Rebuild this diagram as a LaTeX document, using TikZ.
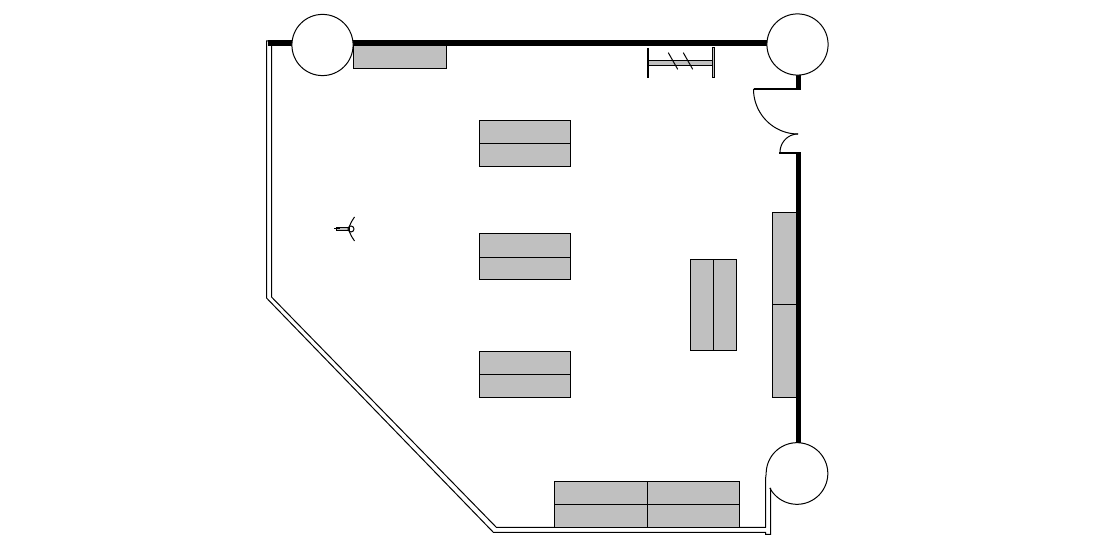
\documentclass[tikz,border=0pt]{standalone}
\definecolor{shelf}{HTML}{C0C0C0}
\tikzset{
  thin line/.style={draw=black,line width=.75pt},
  wall/.style={draw=black,line width=4pt,line cap=butt},
  leaf/.style={draw=black,line width=1.6pt,line join=miter},
  unit/.style={fill=shelf,draw=black,line width=.75pt},
  pillar/.style={draw=black,line width=.75pt,fill=white}
}
\begin{document}
\begin{tikzpicture}[x=.75pt,y=-.75pt]
\useasboundingbox (0,0) rectangle (1096,548);
% glass wall
\draw[thin line,line join=miter] (268,41) -- (266.5,41) -- (266.5,298) -- (493.5,532.5) -- (765.5,532.5) -- (765.5,534.5) -- (770.5,534.5) -- (770.5,488);
\draw[thin line,line join=round] (271.5,45) -- (271.5,297) -- (496.5,527.5) -- (765.5,527.5) -- (765.5,479) -- (766.2,473.5);
% solid walls
\draw[wall] (268,43) -- (292,43);
\draw[wall] (353,43) -- (767,43);
\draw[wall] (798.5,75) -- (798.5,89);
\draw[wall] (798.5,153) -- (798.5,443);
% pillars
\draw[pillar] (322.5,45) circle[radius=30.6];
\draw[pillar] (797.5,44.5) circle[radius=30.6];
\draw[thin line,domain=208:540,samples=120,smooth] plot ({797+30.8*cos(\x)},{473.5-30.8*sin(\x)});
% door
\draw[leaf] (753.5,89) -- (801,89);
\draw[leaf] (779,153) -- (801,153);
\draw[thin line,domain=180:270,samples=40,smooth] plot ({798+44.5*cos(\x)},{89-45*sin(\x)});
\draw[thin line,domain=90:180,samples=30,smooth] plot ({798+18*cos(\x)},{152.5-18.5*sin(\x)});
% display units
\draw[unit] (353.5,45.5) rectangle (446.5,68.5);
\draw[unit] (479.5,120.5) rectangle (570.5,143.5);
\draw[unit] (479.5,143.5) rectangle (570.5,166.5);
\draw[unit] (479.5,233.5) rectangle (570.5,257.5);
\draw[unit] (479.5,257.5) rectangle (570.5,279.5);
\draw[unit] (479.5,351.5) rectangle (570.5,374.5);
\draw[unit] (479.5,374.5) rectangle (570.5,397.5);
\draw[unit] (690.5,259.5) rectangle (713.5,350.5);
\draw[unit] (713.5,259.5) rectangle (736.5,350.5);
\draw[unit] (772.5,212.5) rectangle (796,304.5);
\draw[unit] (772.5,304.5) rectangle (796,397.5);
\draw[unit] (554.5,481.5) rectangle (647.5,504.5);
\draw[unit] (647.5,481.5) rectangle (739.5,504.5);
\draw[unit] (554.5,504.5) rectangle (647.5,527.5);
\draw[unit] (647.5,504.5) rectangle (739.5,527.5);
% rail
\draw[unit] (648,60.5) rectangle (713,65.5);
\draw[leaf] (648,48) -- (648,78);
\draw[unit] (712.5,48) rectangle (714.5,78);
\draw[thin line] (668.3,52.7) -- (677.7,69.3);
\draw[thin line] (683.3,52.7) -- (692.7,69.3);
% figure
\draw[unit] (336,227.5) rectangle (349,230.5);
\draw[thin line] (334,229) -- (340,229);
\draw[thin line] (351,229) circle[radius=3];
\draw[thin line] (354.5,217) .. controls (352.5,220) and (350.5,223) .. (349.5,226);
\draw[thin line] (354.5,241) .. controls (352.5,238) and (350.5,235) .. (349.5,232);
\end{tikzpicture}
\end{document}
